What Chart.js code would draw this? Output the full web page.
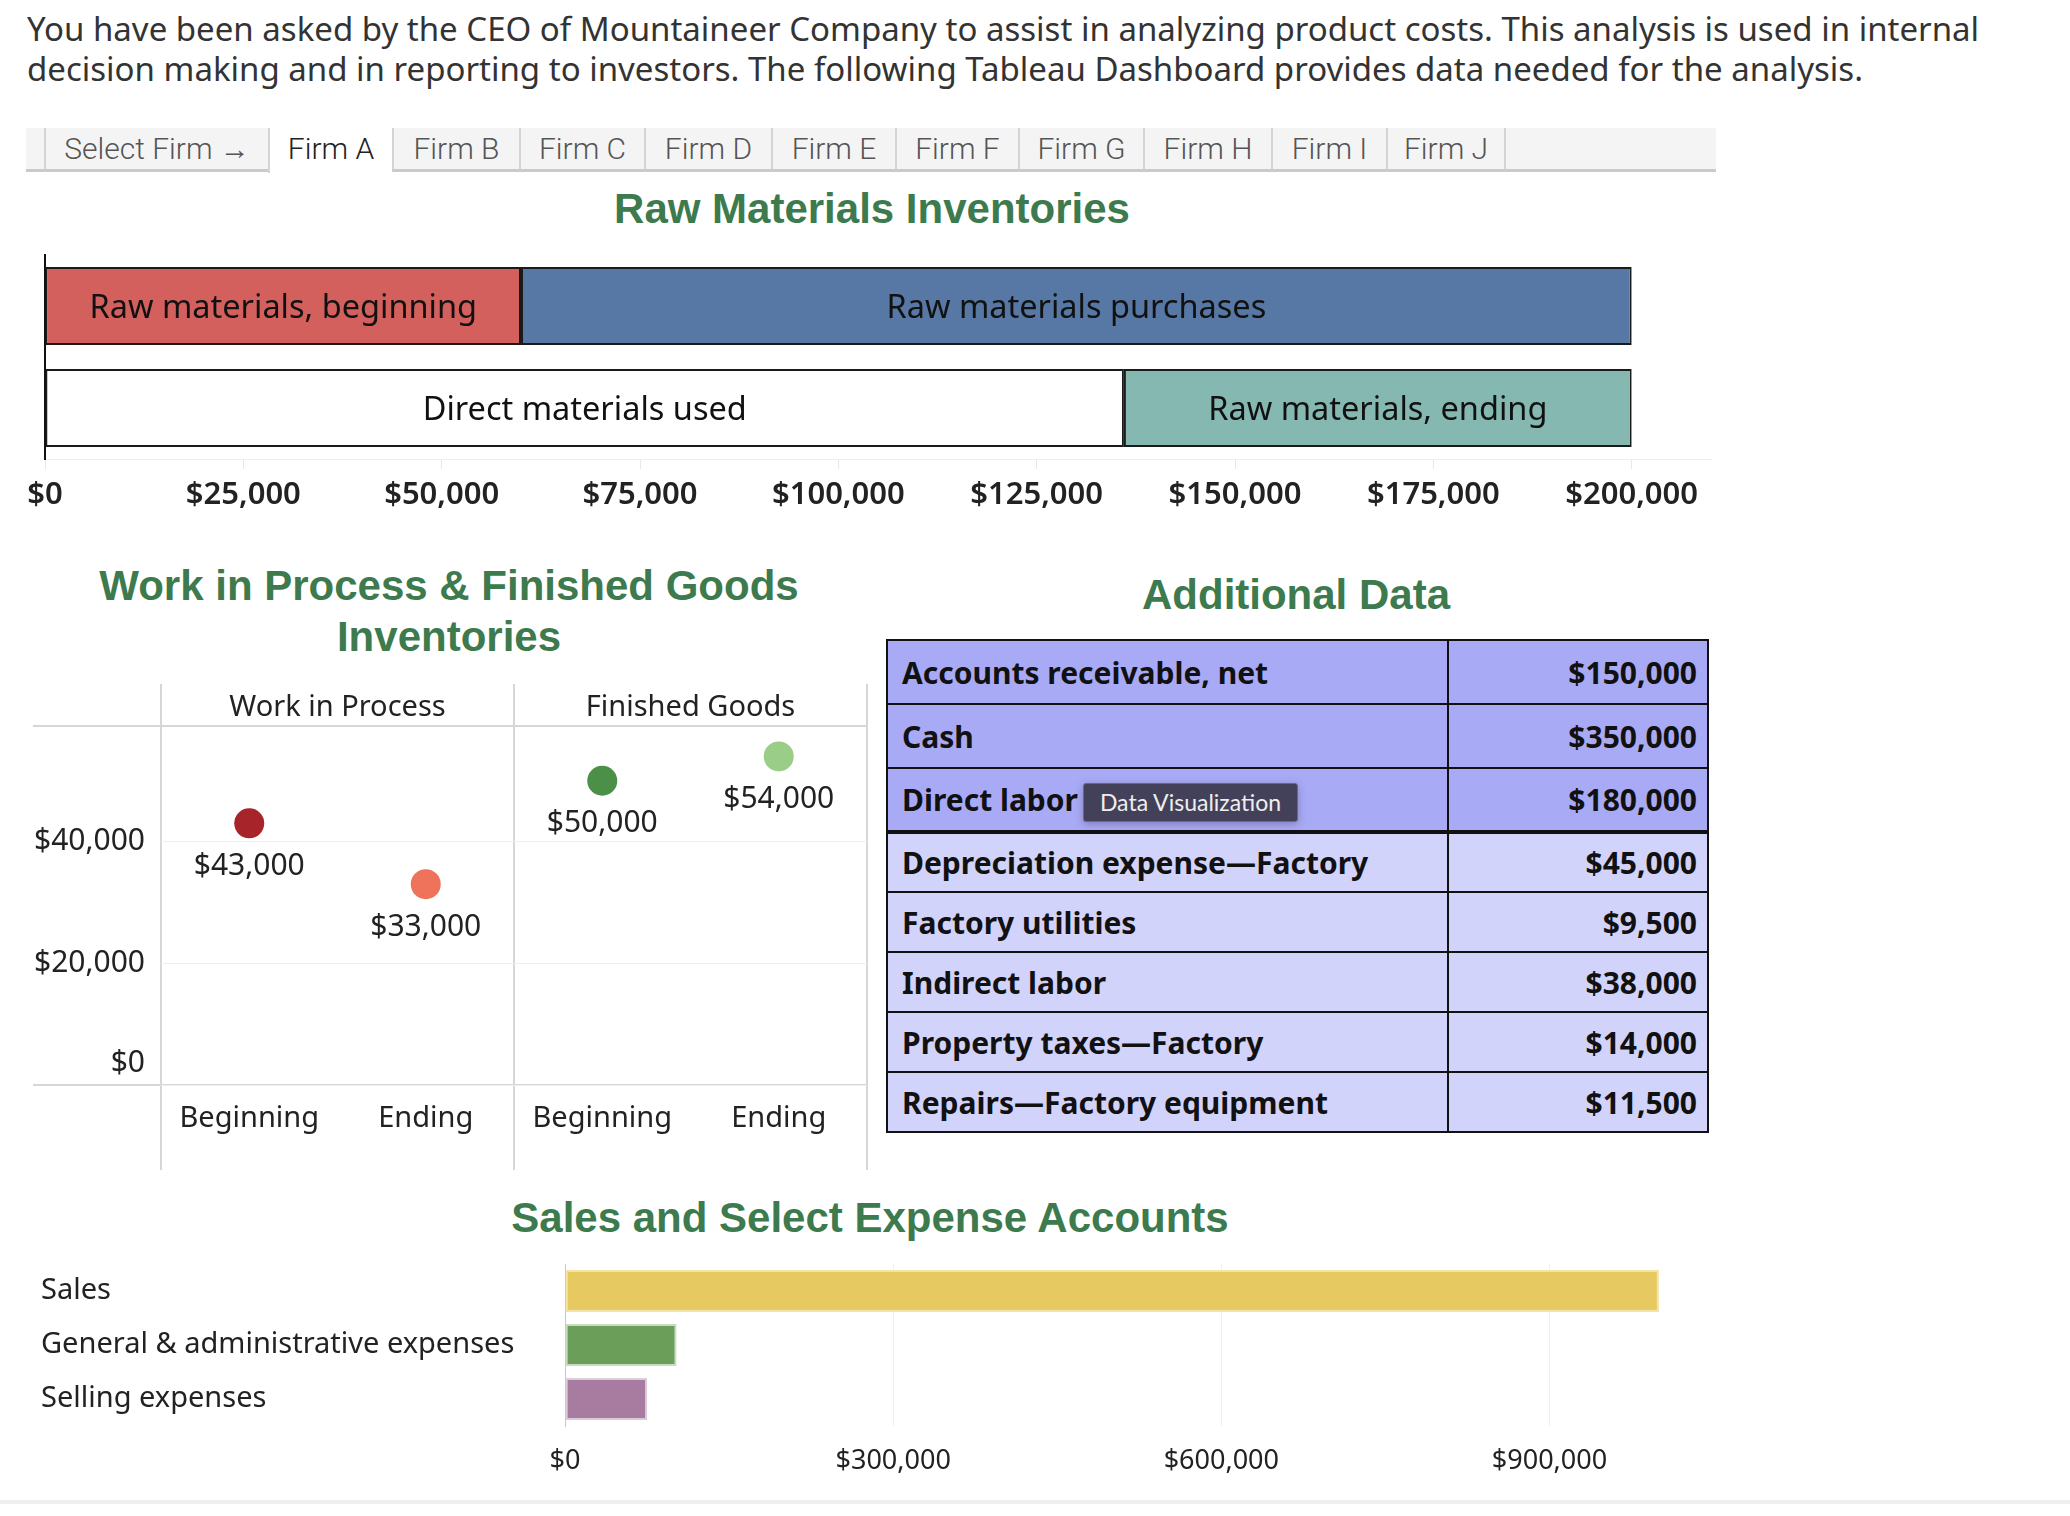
<!DOCTYPE html>
<html>
<head>
<meta charset="utf-8">
<script src="https://cdn.jsdelivr.net/npm/chart.js@4.4.1/dist/chart.umd.min.js"></script>
<style>
body { margin: 0; width: 2070px; height: 1516px; background: #fff; position: relative; overflow: hidden; font-family: 'Noto Sans', sans-serif; }
canvas { position: absolute; }
#intro { position: absolute; left: 27px; top: 9px; font: 33px/40px 'Noto Sans', sans-serif; color: #333; white-space: nowrap; }
.title { position: absolute; width: 1000px; text-align: center; white-space: nowrap; font: bold 42px/42px 'Liberation Sans', Arial, sans-serif; color: #3d7a4d; }
#tabs { position: absolute; left: 26px; top: 128px; width: 1690px; height: 41px; background: #f4f4f4; border-bottom: 3px solid #cacaca; }
.tab { position: absolute; top: 0; height: 41px; box-sizing: border-box; border-left: 2px solid #d4d4d4; font: 300 30px/41px Roboto, sans-serif; color: #555; text-align: center; }
.tab.sel { background: #fff; color: #222; height: 45px; }
.tab.last { border-right: 2px solid #d4d4d4; }
#extra { position: absolute; left: 886px; top: 639px; border-collapse: collapse; font: bold 30px 'Noto Sans', sans-serif; color: #111; }
#extra td { border: 2px solid #111; padding: 0 10px 0 14px; }
#extra td.v { text-align: right; width: 234px; }
#extra td.k { width: 535px; }
#tip { position: absolute; left: 1083px; top: 783px; width: 215px; height: 39px; box-sizing: border-box; background: #43415a; border: 1px solid #6b6a7c; border-radius: 3px; color: #eee; font: 23px/37px Lato, sans-serif; text-align: center; box-shadow: 0 2px 8px rgba(0,0,0,0.25); }
#foot { position: absolute; left: 0; top: 1500px; width: 2070px; height: 4px; background: #eeeeee; }
</style>
</head>
<body>
<div id="intro">You have been asked by the CEO of Mountaineer Company to assist in analyzing product costs. This analysis is used in internal<br>decision making and in reporting to investors. The following Tableau Dashboard provides data needed for the analysis.</div>
<div id="tabs"></div>
<div class="title" style="left:372px; top:188px;">Raw Materials Inventories</div>
<div class="title" style="left:-51px; top:560px; line-height:51px;">Work in Process &amp; Finished Goods<br>Inventories</div>
<div class="title" style="left:796px; top:574px;">Additional Data</div>
<div class="title" style="left:370px; top:1197px;">Sales and Select Expense Accounts</div>
<canvas id="rawChart" width="1800" height="290" style="left:0; top:237px;"></canvas>
<canvas id="invChart" width="900" height="490" style="left:0; top:680px;"></canvas>
<table id="extra"></table>
<div id="tip">Data Visualization</div>
<canvas id="salesChart" width="1800" height="260" style="left:0; top:1240px;"></canvas>
<div id="foot"></div>
<script>
const firms = ['Select Firm →', 'Firm A', 'Firm B', 'Firm C', 'Firm D', 'Firm E', 'Firm F', 'Firm G', 'Firm H', 'Firm I', 'Firm J'];

const rawRows = ['Available', 'Disposed'];
const rawLeftNames = ['Raw materials, beginning', 'Direct materials used'];
const rawLeftValues = [60000, 136000];
const rawRightNames = ['Raw materials purchases', 'Raw materials, ending'];
const rawRightValues = [140000, 64000];
const rawTicks = [0, 25000, 50000, 75000, 100000, 125000, 150000, 175000, 200000];

const inventoryPanels = ['Work in Process', 'Finished Goods'];
const inventoryStages = ['Beginning', 'Ending', 'Beginning', 'Ending'];
const inventoryValues = [43000, 33000, 50000, 54000];
const inventoryTicks = [0, 20000, 40000];

const extraLabels = ['Accounts receivable, net', 'Cash', 'Direct labor', 'Depreciation expense\u2014Factory', 'Factory utilities', 'Indirect labor', 'Property taxes\u2014Factory', 'Repairs\u2014Factory equipment'];
const extraValues = [150000, 350000, 180000, 45000, 9500, 38000, 14000, 11500];

const salesCategories = ['Sales', 'General & administrative expenses', 'Selling expenses'];
const salesValues = [1000000, 102000, 75000];
const salesTicks = [0, 300000, 600000, 900000];

const money = v => '$' + Math.round(v).toLocaleString('en-US');
const fixTicks = list => s => { s.ticks = list.map(v => ({ value: v })); };

// tab strip
const tabEdges = [18, 242, 366, 493, 618, 745, 869, 992, 1117, 1245, 1360, 1480];
const tabs = document.getElementById('tabs');
firms.forEach((f, i) => {
    const d = document.createElement('div');
    d.className = 'tab' + (i === 1 ? ' sel' : '') + (i === firms.length - 1 ? ' last' : '');
    d.style.left = tabEdges[i] + 'px';
    d.style.width = (tabEdges[i + 1] - tabEdges[i]) + 'px';
    d.textContent = f;
    tabs.appendChild(d);
});

// additional data table
const table = document.getElementById('extra');
extraLabels.forEach((label, i) => {
    const tr = document.createElement('tr');
    tr.style.background = i < 3 ? '#a9aaf6' : '#d2d3fb';
    tr.style.height = (i < 3 ? 64 : 60) + 'px';
    tr.innerHTML = '<td class="k">' + label + '</td><td class="v">' + money(extraValues[i]) + '</td>';
    if (i === 2) tr.querySelectorAll('td').forEach(td => td.style.borderBottom = '4px solid #111');
    table.appendChild(tr);
});

Chart.defaults.font.family = "'Noto Sans', sans-serif";
Chart.defaults.color = '#222';
Chart.defaults.animation = false;

const barNames = {
    id: 'barNames',
    afterDatasetsDraw(chart) {
        const ctx = chart.ctx;
        ctx.save();
        ctx.font = "32.5px 'Noto Sans'";
        ctx.fillStyle = '#111';
        ctx.textAlign = 'center';
        ctx.textBaseline = 'middle';
        chart.data.datasets.forEach((ds, i) => {
            chart.getDatasetMeta(i).data.forEach((bar, j) => {
                ctx.fillText(ds.names[j], (bar.x + bar.base) / 2, bar.y + 3);
            });
        });
        ctx.restore();
    }
};

new Chart(document.getElementById('rawChart'), {
    type: 'bar',
    data: {
        labels: rawRows,
        datasets: [
            { names: rawLeftNames, data: rawLeftValues, backgroundColor: ['#d4605e', '#ffffff'] },
            { names: rawRightNames, data: rawRightValues, backgroundColor: ['#5778a4', '#85b8b1'] }
        ]
    },
    options: {
        indexAxis: 'y',
        responsive: false,
        layout: { padding: { left: 45, right: 89, top: 18, bottom: 0 } },
        datasets: {
            bar: { borderColor: '#1a1a1a', borderWidth: 2, borderSkipped: false, categoryPercentage: 1, barPercentage: 0.765 }
        },
        plugins: { legend: { display: false }, tooltip: { enabled: false } },
        scales: {
            x: {
                stacked: true,
                min: 0,
                max: 210000,
                afterBuildTicks: fixTicks(rawTicks),
                ticks: { callback: money, autoSkip: false, maxRotation: 0, padding: 8, font: { size: 31, weight: 600 } },
                grid: { drawOnChartArea: false, color: '#e8e8e8', tickLength: 10 },
                border: { color: '#eeeeee' },
                afterFit: s => { s.height = 68; }
            },
            y: {
                stacked: true,
                ticks: { display: false },
                grid: { display: false },
                border: { color: '#111', width: 2 },
                afterFit: s => { s.width = 0; }
            }
        }
    },
    plugins: [barNames]
});

const panelFrame = {
    id: 'panelFrame',
    beforeDraw(chart) {
        const { ctx, chartArea: a } = chart;
        const x = chart.scales.x;
        const mid = (x.getPixelForValue(1) + x.getPixelForValue(2)) / 2;
        ctx.save();
        ctx.strokeStyle = '#d6d6d6';
        ctx.lineWidth = 2;
        ctx.beginPath();
        [a.top, a.bottom].forEach(y => { ctx.moveTo(33, y); ctx.lineTo(a.right, y); });
        [a.left, mid, a.right].forEach(px => { ctx.moveTo(px, a.top - 42); ctx.lineTo(px, chart.height); });
        ctx.stroke();
        ctx.font = "29px 'Noto Sans'";
        ctx.fillStyle = '#222';
        ctx.textAlign = 'center';
        ctx.textBaseline = 'middle';
        ctx.fillText(inventoryPanels[0], (a.left + mid) / 2, a.top - 18);
        ctx.fillText(inventoryPanels[1], (mid + a.right) / 2, a.top - 18);
        // tableau lifts the zero label above the bottom line
        ctx.font = "30px 'Noto Sans'";
        ctx.textAlign = 'right';
        ctx.fillText(money(0), a.left - 16, chart.scales.y.getPixelForValue(0) - 22);
        ctx.restore();
    }
};

const pointValues = {
    id: 'pointValues',
    afterDatasetsDraw(chart) {
        const ctx = chart.ctx;
        ctx.save();
        ctx.font = "30px 'Noto Sans'";
        ctx.fillStyle = '#222';
        ctx.textAlign = 'center';
        ctx.textBaseline = 'middle';
        chart.getDatasetMeta(0).data.forEach((pt, i) => {
            ctx.fillText(money(chart.data.datasets[0].data[i]), pt.x, pt.y + 43);
        });
        ctx.restore();
    }
};

new Chart(document.getElementById('invChart'), {
    type: 'line',
    data: {
        labels: inventoryStages,
        datasets: [{
            data: inventoryValues,
            showLine: false,
            pointRadius: 15,
            pointHoverRadius: 15,
            pointBorderWidth: 0,
            pointBackgroundColor: ['#a8242b', '#ee735a', '#4b8f49', '#9ace88']
        }]
    },
    options: {
        responsive: false,
        layout: { padding: { left: 0, right: 33, top: 46, bottom: 0 } },
        plugins: { legend: { display: false }, tooltip: { enabled: false } },
        scales: {
            x: {
                offset: true,
                grid: { display: false },
                border: { display: false },
                ticks: { maxRotation: 0, padding: 8, font: { size: 29 } },
                afterFit: s => { s.height = 85; }
            },
            y: {
                min: 0,
                max: 59000,
                afterBuildTicks: fixTicks(inventoryTicks),
                ticks: {
                    callback: money,
                    autoSkip: false,
                    padding: 16,
                    font: { size: 30 },
                    color: c => (c.tick && c.tick.value === 0 ? 'rgba(0,0,0,0)' : '#222')
                },
                grid: { color: '#efefef', drawTicks: false },
                border: { display: false },
                afterFit: s => { s.width = 161; }
            }
        }
    },
    plugins: [panelFrame, pointValues]
});

new Chart(document.getElementById('salesChart'), {
    type: 'bar',
    data: {
        labels: salesCategories,
        datasets: [{
            data: salesValues,
            backgroundColor: ['#e6c960', '#6a9e59', '#a87ca0'],
            borderColor: ['#f3e3a6', '#c9dcc0', '#dccbd8'],
            borderWidth: 2,
            borderSkipped: false,
            categoryPercentage: 1,
            barPercentage: 0.78
        }]
    },
    options: {
        indexAxis: 'y',
        responsive: false,
        layout: { padding: { left: 41, right: 70, top: 24, bottom: 0 } },
        plugins: { legend: { display: false }, tooltip: { enabled: false } },
        scales: {
            x: {
                min: 0,
                max: 1065000,
                afterBuildTicks: fixTicks(salesTicks),
                ticks: { callback: money, autoSkip: false, maxRotation: 0, padding: 19, font: { size: 27 } },
                grid: { color: '#efefef', drawTicks: false },
                border: { display: false },
                afterFit: s => { s.height = 74; }
            },
            y: {
                ticks: { crossAlign: 'far', padding: 0, font: { size: 29 } },
                grid: { display: false },
                border: { color: '#c8c8c8', dash: [2, 3] },
                afterFit: s => { s.width = 524; }
            }
        }
    }
});
</script>
</body>
</html>
